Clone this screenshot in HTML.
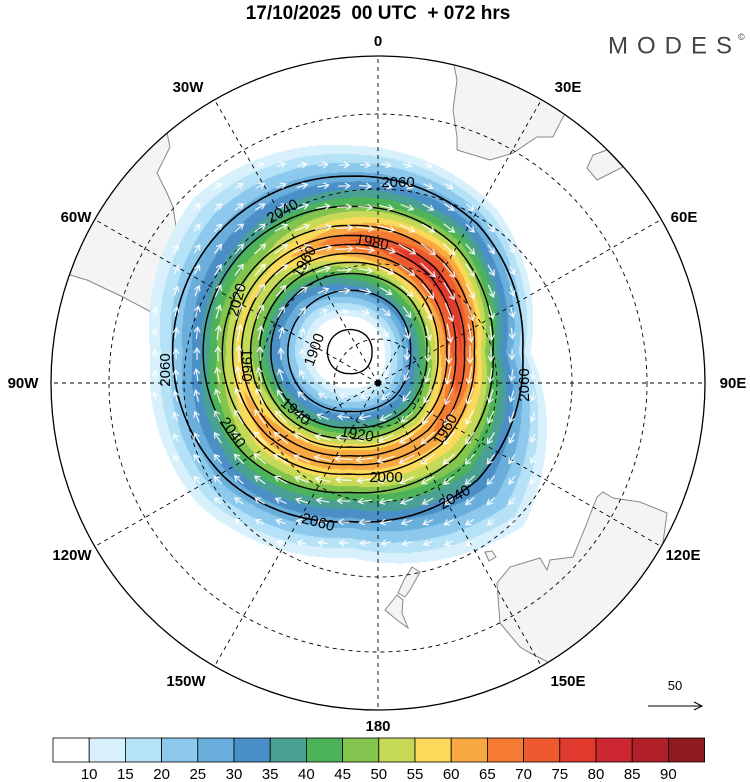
<!DOCTYPE html>
<html><head><meta charset="utf-8">
<style>
html,body{margin:0;padding:0;background:#fff;}
#wrap{position:relative;width:750px;height:782px;overflow:hidden;font-family:"Liberation Sans",sans-serif;}
svg,canvas{position:absolute;left:0;top:0;}
.lbl{font-weight:bold;font-size:15px;fill:#000;text-anchor:middle;dominant-baseline:middle;}
.cl{font-size:15px;fill:#000;text-anchor:middle;dominant-baseline:middle;}
</style></head>
<body>
<div id="wrap">
<svg id="land" width="750" height="782">
 <defs><clipPath id="cc"><circle cx="378" cy="383" r="327"/></clipPath></defs>
 <g clip-path="url(#cc)" fill="#f4f4f4" stroke="#888" stroke-width="1">
  <polygon points="167,133 170,147 157,173 167,193 173,207 177,233 167,253 180,257 183,273 193,293 203,313 217,337 180,327 153,313 123,297 87,280 60,272 30,260 30,100 120,90"/>
  <polygon points="453,60 457,80 453,110 457,137 457,150 490,160 513,153 537,137 553,137 563,117 580,100 500,40"/>
  <polygon points="607,150 623,167 597,180 587,168 593,155"/>
  <polygon points="597,497 603,492 613,498 640,502 667,513 663,543 690,560 600,700 550,663 530,653 520,647 500,623 497,583 510,567 540,558 547,570 550,560 573,557 587,523 593,507"/>
  <polygon points="485,552 492,551 496,557 489,561"/>
  <polygon points="412,567 420,572 410,590 405,597 398,593 404,580"/>
  <polygon points="397,595 385,610 397,620 408,628 402,613 403,600"/>
 </g>
</svg>
<canvas id="field" width="750" height="782"></canvas>
<svg id="ov" width="750" height="782">
 <text x="378" y="14" style="font-weight:bold;font-size:19px;text-anchor:middle;dominant-baseline:middle;white-space:pre" xml:space="preserve">17/10/2025  00 UTC  + 072 hrs</text>
 <text x="608" y="47" style="font-size:24px;letter-spacing:9px;fill:#444;dominant-baseline:middle">MODES</text>
 <text x="738" y="40" style="font-size:9px;fill:#444">©</text>
 <g id="grid"></g>
 <circle cx="378" cy="383" r="327" fill="none" stroke="#000" stroke-width="1.3"/>
 <g id="contours"></g>
 <g id="arrows"></g>
 <g id="clabels"></g>
 <g id="lonlabels"></g>
 <circle cx="378" cy="383" r="3" fill="#000"/>
 <text x="675" y="690" style="font-size:13px;text-anchor:middle">50</text>
 <g><line x1="648" y1="706" x2="702" y2="706" stroke="#000" stroke-width="1"/><polyline points="694,702 702,706 694,710" fill="none" stroke="#000"/></g>
 <g id="cbar"></g>
</svg>
</div>
<script>
// ---- data ----
const dirAngles=[0,45,90,135,180,225,270,315];
const peakRadius=[110,115,108,113,113,113,112,115];
const peakSpeed=[75,65,65,65,56,56,70,80];
const outerRadius=[180,245,205,215,200,220,207,205];
const innerT=[0,0.25,0.32,0.45,0.6,0.7,0.8,0.9,1];
const innerF=[0.03,0.08,0.14,0.3,0.5,0.62,0.78,0.92,1];
const outerU=[0,0.2,0.4,0.6,0.8,1,1.3];
const outerG=[1,0.8,0.55,0.35,0.18,0,-0.3];
const contourLevels=[1880,1900,1920,1940,1960,1980,2000,2020,2040,2060];
const contourRn=[0.2,0.55,0.7,0.8,0.88,0.96,1.04,1.13,1.3,1.57];
const cbarLevels=[10,15,20,25,30,35,40,45,50,55,60,65,70,75,80,85,90];
const cbarColors=["#ffffff","#d8f0fb","#b5e2f7","#8cc9ec","#6aaedc","#4a90c6","#4aa193","#4db35a","#82c44e","#c6da58","#fbd95a","#f8a942","#f57b32","#ee5a2f","#e03a2f","#cc2630","#b12028","#8e1b1f"];
const lonLabels=["0","30E","60E","90E","120E","150E","180","150W","120W","90W","60W","30W"];
const lonLabelXY=[[378,42],[568,88],[684,218],[733,384],[683,556],[568,682],[378,727],[186,682],[72,556],[23,384],[76,218],[188,88]];
const latRadii=[44,119,194,269];
const NS="http://www.w3.org/2000/svg";
const CX=378,CY=383,R=327,VX=350,VY=352;
function interpAng(arr,a){let d=(((a%360)+360)%360)/45;let i=Math.floor(d),f=d-i;return arr[i%8]*(1-f)+arr[(i+1)%8]*f;}
function interp(xs,ys,x){if(x<=xs[0])return ys[0];for(let i=1;i<xs.length;i++){if(x<=xs[i]){const f=(x-xs[i-1])/(xs[i]-xs[i-1]);return ys[i-1]+f*(ys[i]-ys[i-1]);}}const n=xs.length;return ys[n-1]+(x-xs[n-1])*(ys[n-1]-ys[n-2])/(xs[n-1]-xs[n-2]);}
function speed(x,y){const dx=x-VX,dy=y-VY,r=Math.hypot(dx,dy),a=Math.atan2(dy,dx)*180/Math.PI;
 const pR=interpAng(peakRadius,a),pS=interpAng(peakSpeed,a),oR=interpAng(outerRadius,a);
 if(r<=pR)return pS*interp(innerT,innerF,r/pR);
 return 10+(pS-10)*interp(outerU,outerG,(r-pR)/(oR-pR));}
function hex(c){return [parseInt(c.substr(1,2),16),parseInt(c.substr(3,2),16),parseInt(c.substr(5,2),16)];}
// field
const cv=document.getElementById('field'),ctx=cv.getContext('2d');
const img=ctx.createImageData(750,782);const rgb=cbarColors.map(hex);
for(let y=0;y<782;y++)for(let x=0;x<750;x++){
 if(Math.hypot(x-CX,y-CY)>R)continue;const s=speed(x,y);if(s<10)continue;
 let b=Math.min(17,Math.floor((s-10)/5)+1);const c=rgb[b],k=(y*750+x)*4;
 img.data[k]=c[0];img.data[k+1]=c[1];img.data[k+2]=c[2];img.data[k+3]=255;}
ctx.putImageData(img,0,0);
// grid
const grid=document.getElementById('grid');
latRadii.forEach(r=>{const c=document.createElementNS(NS,'circle');


c.setAttribute('cx',CX);c.setAttribute('cy',CY);c.setAttribute('r',r);c.setAttribute('fill','none');c.setAttribute('stroke','#000');c.setAttribute('stroke-dasharray','4,4');c.setAttribute('stroke-width','0.9');grid.appendChild(c);});
const ll=document.getElementById('lonlabels');
lonLabels.forEach((t,i)=>{const a=(i*30-90)*Math.PI/180;
 const l=document.createElementNS(NS,'line');
 
 
 l.setAttribute('x1',CX);l.setAttribute('y1',CY);l.setAttribute('x2',CX+R*Math.cos(a));l.setAttribute('y2',CY+R*Math.sin(a));l.setAttribute('stroke','#000');l.setAttribute('stroke-dasharray','4,4');l.setAttribute('stroke-width','0.9');grid.appendChild(l);
 const tx=document.createElementNS(NS,'text');
 
 
 tx.setAttribute('class','lbl');tx.setAttribute('x',lonLabelXY[i][0]);tx.setAttribute('y',lonLabelXY[i][1]);tx.textContent=t;ll.appendChild(tx);});
// contours
const cg=document.getElementById('contours');
contourLevels.forEach((lv,i)=>{let pts=[];const rn=contourRn[i];
 for(let k=0;k<120;k++){const a=k*3;const pR=interpAng(peakRadius,a);const r=rn*pR;const ar=a*Math.PI/180;pts.push((VX+r*Math.cos(ar)).toFixed(1)+','+(VY+r*Math.sin(ar)).toFixed(1));}
 const p=document.createElementNS(NS,'polygon');
 
 
 p.setAttribute('points',pts.join(' '));p.setAttribute('fill','none');p.setAttribute('stroke','#000');p.setAttribute('stroke-width',lv==2060?1.6:1.4);cg.appendChild(p);});
// arrows
const ag=document.getElementById('arrows');
for(let y=60;y<720;y+=21)for(let x=50;x<720;x+=21){
 if(Math.hypot(x-CX,y-CY)>R-8)continue;const s=speed(x,y);if(s<12)continue;
 const dx=x-VX,dy=y-VY,r=Math.hypot(dx,dy)||1;const ux=-dy/r,uy=dx/r;const L=Math.min(6+s*0.18,20);
 const x1=x-ux*L/2,y1=y-uy*L/2,x2=x+ux*L/2,y2=y+uy*L/2;
 const g=document.createElementNS(NS,'path');
 
 
 const hx=x2-ux*5,hy=y2-uy*5;
 g.setAttribute('d',`M${x1.toFixed(1)},${y1.toFixed(1)}L${x2.toFixed(1)},${y2.toFixed(1)}M${(hx-uy*3).toFixed(1)},${(hy+ux*3).toFixed(1)}L${x2.toFixed(1)},${y2.toFixed(1)}L${(hx+uy*3).toFixed(1)},${(hy-ux*3).toFixed(1)}`);
 g.setAttribute('stroke','#fff');g.setAttribute('fill','none');g.setAttribute('stroke-width','1.2');g.setAttribute('opacity','0.9');ag.appendChild(g);}
// contour labels
const labelText=["2060","2040","1980","1960","2020","1960","1900","2060","1940","1920","2000","1960","2040","2060","2060","2040"];
const labelPos=[[398,183,0],[283,212,-30],[372,243,10],[305,262,-60],[238,300,-75],[246,365,90],[315,350,-70],[166,370,-90],[295,412,40],[357,435,10],[386,478,0],[446,430,-60],[455,498,-30],[525,385,-90],[318,523,15],[232,433,55]];
const clg=document.getElementById('clabels');
labelText.forEach((t,i)=>{const [x,y,r]=labelPos[i];const tx=document.createElementNS(NS,'text');
 
 
 tx.setAttribute('class','cl');tx.setAttribute('x',x);tx.setAttribute('y',y);tx.setAttribute('transform',`rotate(${r} ${x} ${y})`);tx.textContent=t;clg.appendChild(tx);});
// colorbar
const cb=document.getElementById('cbar');const bx=53,bw=36.2,by=738,bh=24;
cbarColors.forEach((c,i)=>{const r=document.createElementNS(NS,'rect');
 
 
 r.setAttribute('x',bx+i*bw);r.setAttribute('y',by);r.setAttribute('width',bw);r.setAttribute('height',bh);r.setAttribute('fill',c);r.setAttribute('stroke','#000');r.setAttribute('stroke-width','0.8');cb.appendChild(r);});
cbarLevels.forEach((v,i)=>{const t=document.createElementNS(NS,'text');
 
 
 t.setAttribute('x',bx+(i+1)*bw);t.setAttribute('y',775);t.setAttribute('style','font-size:15px;text-anchor:middle;dominant-baseline:middle');t.textContent=v;cb.appendChild(t);});
</script>
</body></html>
